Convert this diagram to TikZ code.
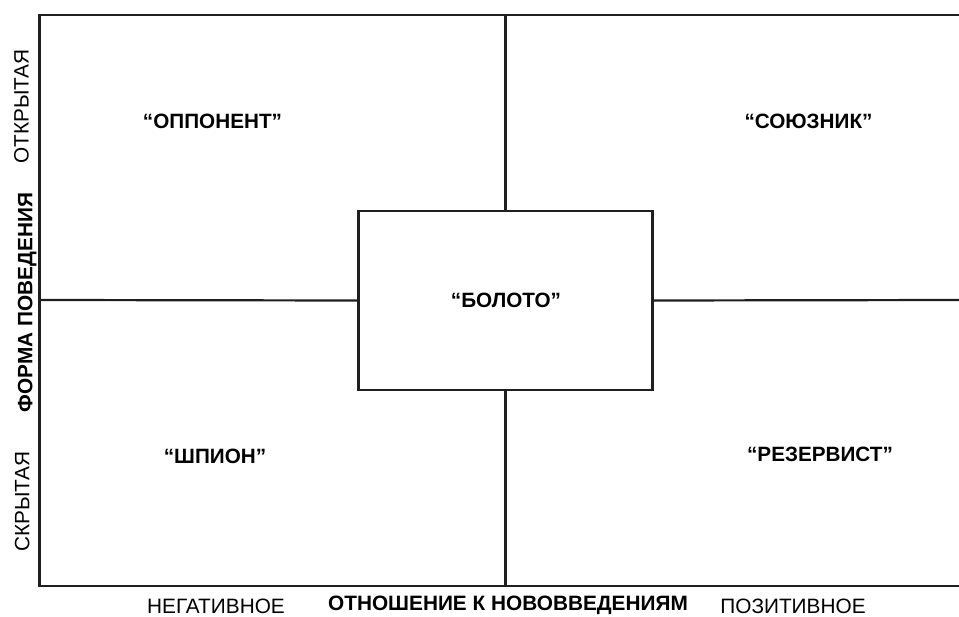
\documentclass[tikz,border=0pt]{standalone}
\usepackage{fontspec}
\setmainfont{Liberation Sans}
\begin{document}
\begin{tikzpicture}[x=1pt, y=-1pt,
  frame/.style={line width=2.2pt, draw=black!88},
  zone/.style={font=\fontsize{20.7}{24}\selectfont\bfseries, anchor=base, inner sep=0pt},
  axis/.style={font=\fontsize{20.8}{24}\selectfont, anchor=base, inner sep=0pt},
  axistitle/.style={font=\fontsize{20.8}{24}\selectfont\bfseries, anchor=base, inner sep=0pt},
  middlebox/.style={frame, fill=white, minimum width=294pt, minimum height=179pt, inner sep=0pt}]
\useasboundingbox (0,0) rectangle (959,617);

% frame corners and axis ends
\coordinate (tl) at (39.5,15);
\coordinate (tr) at (962,15);
\coordinate (bl) at (39.5,586);
\coordinate (br) at (962,586);
\coordinate (ml) at (39.5,300);
\coordinate (mr) at (962,300);
\coordinate (mt) at (505.5,15);
\coordinate (mb) at (505.5,586);

% central box
\node[middlebox] (swamp) at (505.5,300.5) {};
\node[zone] (swamptext) at (506,308) {“БОЛОТО”};

% outer frame (open on the right)
\draw[frame] (tr) -- (tl) -- (bl) -- (br);

% axes meeting the central box
\draw[frame] (ml) -- (swamp.west);
\draw[frame] (swamp.east) -- (mr);
\draw[frame] (mt) -- (swamp.north);
\draw[frame] (swamp.south) -- (mb);

% quadrant labels
\node[zone] (opp) at (212.5,128.3) {“ОППОНЕНТ”};
\node[zone] (ally) at (808.5,128.3) {“СОЮЗНИК”};
\node[zone] (spy) at (215,464) {“ШПИОН”};
\node[zone] (res) at (820,462) {“РЕЗЕРВИСТ”};

% vertical axis
\node[axis, rotate=90] (open) at (28.5,106.5) {ОТКРЫТАЯ};
\node[axistitle, rotate=90] (form) at (32.3,302.5) {ФОРМА ПОВЕДЕНИЯ};
\node[axis, rotate=90] (hidden) at (29.3,501.5) {СКРЫТАЯ};

% horizontal axis
\node[axis] (neg) at (216,613.5) {НЕГАТИВНОЕ};
\node[axistitle] (attitude) at (508,610) {ОТНОШЕНИЕ К НОВОВВЕДЕНИЯМ};
\node[axis] (pos) at (793,613.5) {ПОЗИТИВНОЕ};
\end{tikzpicture}
\end{document}
